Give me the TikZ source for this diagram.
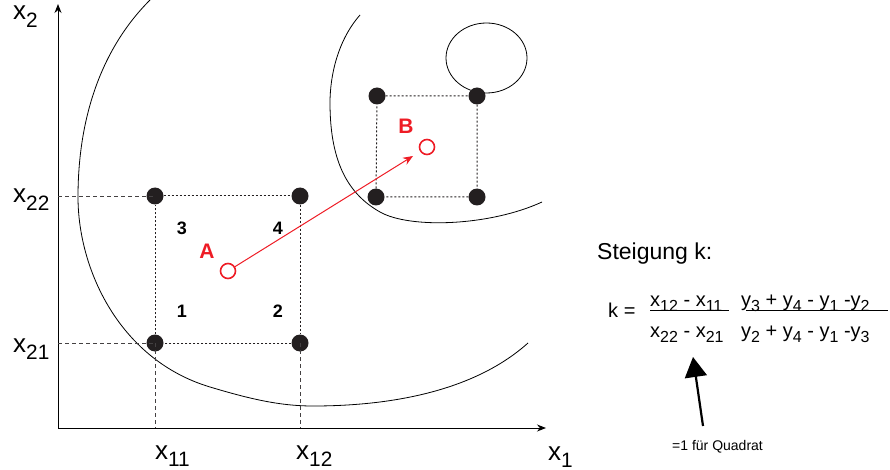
\documentclass[tikz,border=0pt]{standalone}
\usepackage{fontspec}
\usepackage{graphicx}
\setmainfont{Liberation Sans}
\usetikzlibrary{arrows.meta}
\definecolor{dotc}{HTML}{231F20}
\definecolor{redc}{HTML}{EE1C25}
\newcommand\sbb[1]{\raisebox{-0.27em}{\scalebox{0.8}{#1}}}
\begin{document}
\begin{tikzpicture}[x=1pt,y=-1pt,
  dot/.style={circle,fill=dotc,inner sep=0pt,minimum size=17pt},
  sqline/.style={dotc,line width=1pt,dash pattern=on 2pt off 2pt},
  projline/.style={dotc!85,line width=0.8pt,dash pattern=on 4pt off 3pt},
  axis/.style={line width=1pt,-{Stealth[length=9pt,width=7pt]}},
  curve/.style={line width=0.8pt},
  axlab/.style={font=\fontsize{26}{30}\selectfont,inner sep=0pt,anchor=base west},
  num/.style={font=\bfseries\fontsize{18}{20}\selectfont,inner sep=0pt},
  redlab/.style={font=\bfseries\fontsize{21}{24}\selectfont,text=redc,inner sep=0pt},
  ring/.style={circle,draw=redc,line width=1.6pt,fill=white,inner sep=0pt,minimum size=15pt},
  ftxt/.style={font=\fontsize{20}{24}\selectfont,inner sep=0pt,anchor=base west}]
\useasboundingbox (0,0) rectangle (890,470);

% curves
\draw[curve] (150,0) .. controls (100,50) and (78,120) .. (78,197)
  .. controls (78,270) and (120,360) .. (210,387)
  .. controls (250,399) and (280,406) .. (313,406)
  .. controls (380,406) and (470,395) .. (528,343);
\draw[curve] (360,15) .. controls (338,40) and (330,75) .. (330,103)
  .. controls (330,165) and (350,195) .. (380,212)
  .. controls (410,229) and (490,226) .. (542,202);
\draw[curve] (486.5,58) ellipse [x radius=40.5, y radius=35];

% axes
\coordinate (O) at (58,428);
\coordinate (Yt) at (58,4);
\coordinate (Xt) at (546,428);
\draw[axis] (O) -- (Yt);
\draw[axis] (O) -- (Xt);
\node[axlab] (lx2) at (13,20) {x\sbb{2}};
\node[axlab] (lx1) at (548,460) {x\sbb{1}};
\node[axlab] (lx22) at (13,203) {x\sbb{22}};
\node[axlab] (lx21) at (13,352) {x\sbb{21}};
\node[axlab] (lx11) at (155,459) {x\sbb{11}};
\node[axlab] (lx12) at (296,459) {x\sbb{12}};

% projection coordinates
\coordinate (py22) at (58,196);
\coordinate (py21) at (58,343);
\coordinate (px11) at (155,428);
\coordinate (px12) at (300,428);

% square A
\node[dot] (a3) at (155,196) {};
\node[dot] (a4) at (300,196) {};
\node[dot] (a1) at (155,343) {};
\node[dot] (a2) at (300,343) {};
\draw[projline] (py22) -- (a3.center);
\draw[projline] (py21) -- (a1.center);
\draw[projline] (a1.center) -- (px11);
\draw[projline] (a2.center) -- (px12);
\draw[sqline] (a3) -- (a4) -- (a2) -- (a1) -- (a3);

% square B
\node[dot] (b3) at (377,96) {};
\node[dot] (b4) at (477,96) {};
\node[dot] (b1) at (376,197) {};
\node[dot] (b2) at (477,197) {};
\draw[sqline] (b3) -- (b4) -- (b2) -- (b1) -- (b3);

% numbers
\node[num] (n3) at (182,228) {3};
\node[num] (n4) at (278,228) {4};
\node[num] (n1) at (182,311) {1};
\node[num] (n2) at (278,311) {2};

% A and B
\node[redlab] (la) at (207,251) {A};
\node[redlab] (lb) at (406,126) {B};
\node[ring] (ra) at (228,271) {};
\node[ring] (rb) at (427,147) {};
\coordinate (tipb) at (413,156);
\draw[redc,line width=1pt,-{Stealth[length=10pt,width=8pt]}] (ra) -- (tipb);

% formula
\node[ftxt,font=\fontsize{23}{27}\selectfont] (st) at (597,259) {Steigung k:};
\node[ftxt] (keq) at (608,317) {k =};
\node[ftxt] (num1) at (650,306) {x\sbb{12} - x\sbb{11}};
\node[ftxt] (den1) at (650,337) {x\sbb{22} - x\sbb{21}};
\coordinate (f1l) at (650,310);
\coordinate (f1r) at (729,310);
\draw[line width=0.8pt] (f1l) -- (f1r);
\node[ftxt] (num2) at (741,306) {y\sbb{3} + y\sbb{4} - y\sbb{1} -y\sbb{2}};
\node[ftxt] (den2) at (741,337) {y\sbb{2} + y\sbb{4} - y\sbb{1} -y\sbb{3}};
\coordinate (f2l) at (746,310);
\coordinate (f2r) at (888,310);
\draw[line width=0.8pt] (f2l) -- (f2r);

% note arrow
\node[font=\fontsize{14}{16}\selectfont,inner sep=0pt,anchor=base west] (note) at (672,450) {=1 für Quadrat};
\coordinate (as) at (703,426);
\coordinate (ae) at (693,357);
\draw[line width=2.2pt,-{Triangle[length=20pt,width=22pt]}] (as) -- (ae);
\end{tikzpicture}
\end{document}
